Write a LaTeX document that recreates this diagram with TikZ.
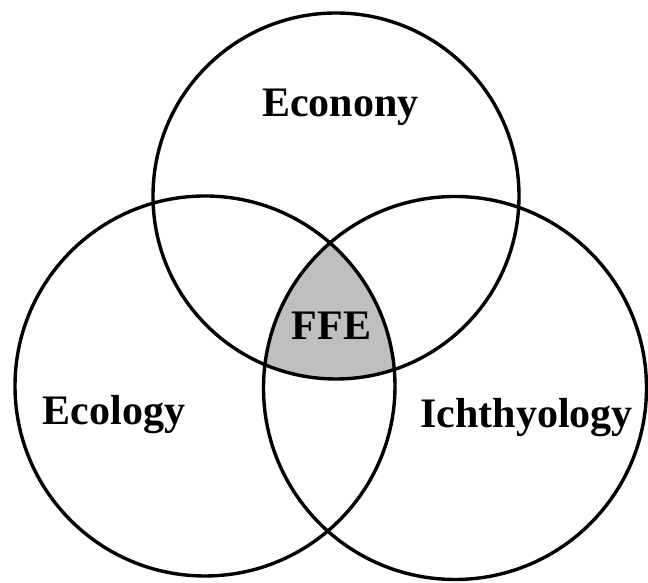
\documentclass[tikz,border=0pt]{standalone}
\usepackage{fontspec}
\setmainfont{Liberation Serif}
\begin{document}
\begin{tikzpicture}[x=1pt,y=1pt,
  ring/.style={draw=black,line width=3.4pt},
  lbl/.style={font=\fontsize{42}{50}\selectfont\bfseries,anchor=base,inner sep=0pt}]
\useasboundingbox (0,0) rectangle (648,583);
\coordinate (ctop) at (336,387);
\coordinate (cleft) at (205,197);
\coordinate (cright) at (455,195);
\begin{scope}
  \clip (ctop) circle (183);
  \clip (cleft) circle (190);
  \fill[black!25] (cright) circle (191.5);
\end{scope}
\draw[ring] (ctop) circle (183);
\draw[ring] (cleft) circle (190);
\draw[ring] (cright) circle (191.5);
\node[lbl] (econ) at (340.5,466) {Econony};
\node[lbl] (ecol) at (114,158) {Ecology};
\node[lbl] (ich) at (526.5,155) {Ichthyology};
\node[lbl] (ffe) at (331.5,243) {FFE};
\end{tikzpicture}
\end{document}
